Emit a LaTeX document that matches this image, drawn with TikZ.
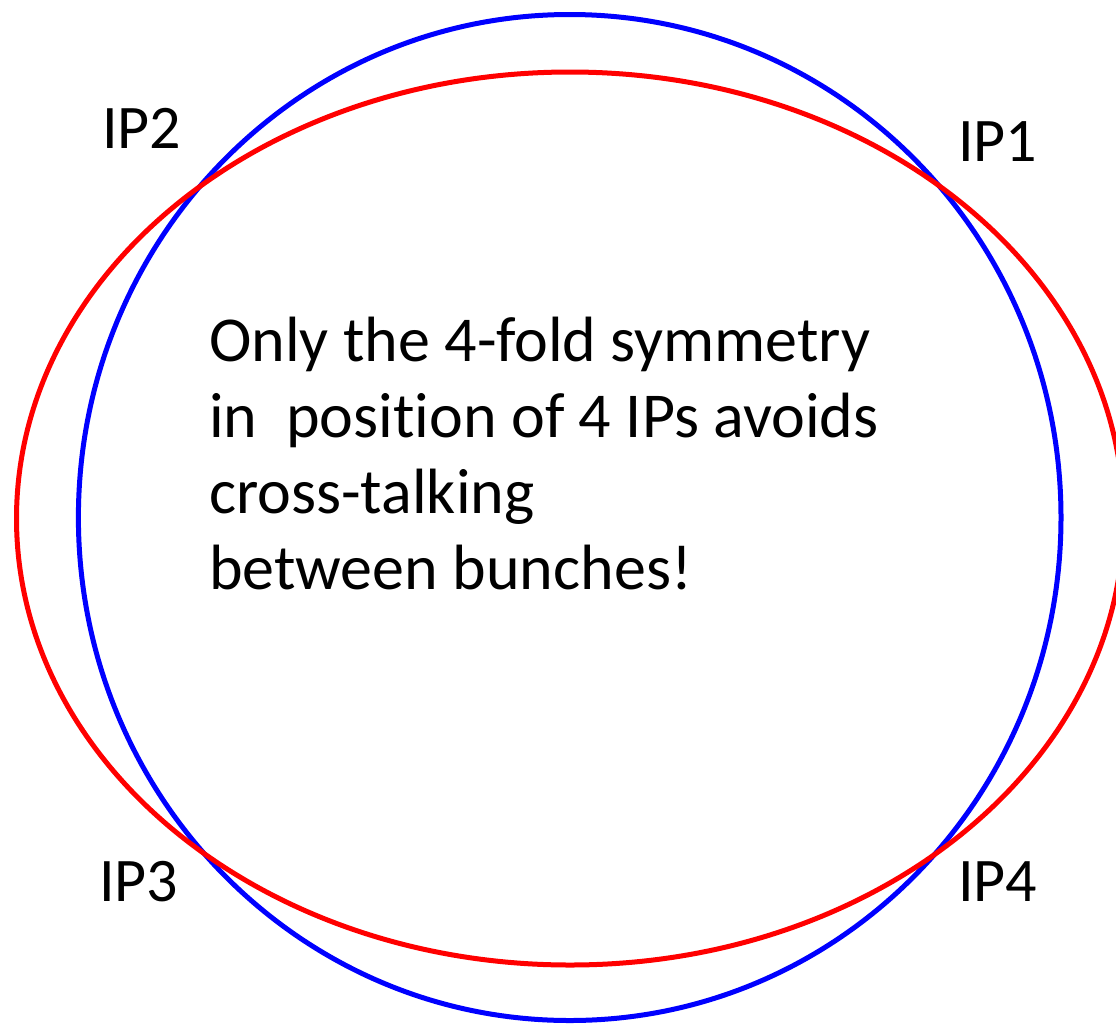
\documentclass[tikz,border=0pt]{standalone}
\usepackage{fontspec}
\setmainfont[Ligatures=NoCommon]{Carlito}
\begin{document}
\begin{tikzpicture}[x=1pt,y=-1pt,
  ring/.style={line width=5pt},
  iplabel/.style={inner sep=0pt,anchor=base west,font=\fontsize{62}{76}\selectfont},
  msg/.style={inner sep=0pt,anchor=base west,align=left,font=\fontsize{64}{76}\selectfont}]
\useasboundingbox (0,0) rectangle (1116,1026);
\clip (0,0) rectangle (1116,1026);
\draw[ring,blue] (569.7,517.5) ellipse [x radius=491.3pt, y radius=503pt];
\draw[ring,red] (570,518.5) ellipse [x radius=553.5pt, y radius=446.5pt];
\node[iplabel] (ip1) at (958,161) {IP1};
\node[iplabel] (ip2) at (102,148) {IP2};
\node[iplabel] (ip3) at (99,901) {IP3};
\node[iplabel] (ip4) at (958,901) {IP4};
\node[msg] (txt) at (209,589) {Only the 4-fold symmetry\\in\ \ position of 4 IPs avoids\\cross-talking\\between bunches!};
\end{tikzpicture}
\end{document}
